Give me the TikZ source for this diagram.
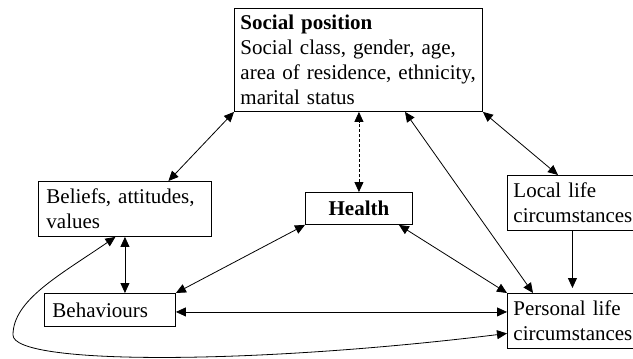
\documentclass[tikz,border=0pt]{standalone}
\usepackage{fontspec}
\setmainfont{Liberation Serif}
\usepackage{tikz}
\usetikzlibrary{positioning}
\usetikzlibrary{arrows.meta}

\tikzset{
  box/.style={draw, rectangle, anchor=north west, align=left, inner xsep=8pt, inner ysep=0pt, line width=0.9pt},
  link/.style={<->, line width=0.8pt},
}

\begin{document}
\begin{tikzpicture}[x=1pt,y=-1pt,>={Triangle[length=10pt,width=9pt]},font=\fontsize{21}{25}\selectfont]
      \useasboundingbox (0,0) rectangle (633,359);
      \node[box, inner xsep=6pt, text width=236pt, minimum height=103pt] (social) at (234,8) {\textbf{Social position}\\ Social class, gender, age,\\ area of residence, ethnicity,\\ marital status};
      \node[box, text width=157pt, minimum height=55pt] (beliefs) at (38,181) {Beliefs, attitudes,\\ values};
      \node[box, align=center, text width=91pt, minimum height=32pt] (health) at (305,192) {\textbf{Health}};
      \node[box, inner xsep=6pt, text width=134pt, minimum height=55pt] (local) at (507,175) {Local life\\ circumstances};
      \node[box, text width=115pt, minimum height=33pt] (behaviours) at (44,293) {Behaviours};
      \node[box, inner xsep=6pt, text width=134pt, minimum height=55pt] (personal) at (507,293) {Personal life\\ circumstances};
      \draw[link] (social.south west) -- ([xshift=43.5pt]beliefs.north);
      \draw[link] (social.south east) -- ([xshift=51pt]local.north west);
      \draw[link, dash pattern=on 3pt off 2pt] (health.north) -- (health.north |- social.south);
      \draw[link] ([xshift=171pt]social.south west) -- ([xshift=26pt]personal.north west);
      \draw[link] ([xshift=-14pt]health.south east) -- (personal.north west);
      \draw[link] (health.south west) -- (behaviours.north east);
      \draw[link] (beliefs.south) -- (beliefs.south |- behaviours.north);
      \draw[link] ([yshift=-2pt]behaviours.east) -- ([yshift=-2pt]behaviours.east -| personal.west);
      \draw[link, ->] ([xshift=-8pt]local.south) -- ([xshift=-8pt,yshift=5pt]local.south |- personal.north);
      \draw[link] ([xshift=-9.5pt]beliefs.south) .. controls (60,275) and (13,300) .. (13,335)
            .. controls (13,365) and (250,365) .. ([yshift=-12.5pt]personal.west);
    \end{tikzpicture}
\end{document}
